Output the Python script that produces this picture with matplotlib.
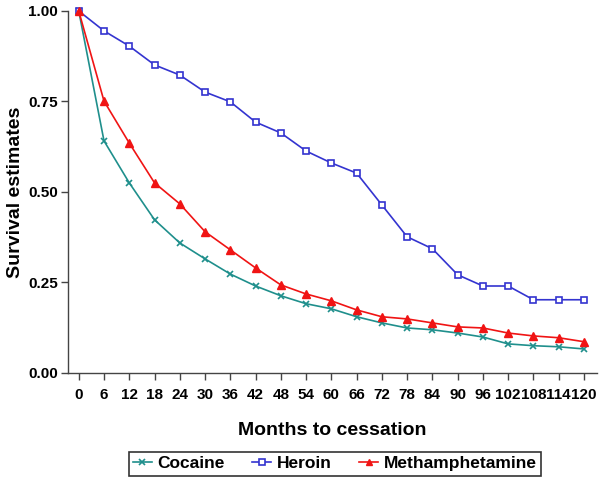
import matplotlib
matplotlib.use("Agg")
import matplotlib.pyplot as plt

plt.rcParams['font.family'] = ['Liberation Sans', 'DejaVu Sans']
plt.rcParams['font.weight'] = 'bold'

months = [0, 6, 12, 18, 24, 30, 36, 42, 48, 54, 60, 66, 72, 78, 84, 90, 96, 102, 108, 114, 120]
cocaine = [1.00, 0.641, 0.525, 0.423, 0.359, 0.315, 0.273, 0.240, 0.213, 0.191, 0.177,
           0.155, 0.138, 0.124, 0.119, 0.110, 0.099, 0.080, 0.075, 0.072, 0.066]
heroin = [1.00, 0.945, 0.903, 0.851, 0.823, 0.776, 0.749, 0.693, 0.663, 0.613, 0.580,
          0.552, 0.464, 0.376, 0.343, 0.271, 0.240, 0.240, 0.202, 0.202, 0.202]
meth = [1.00, 0.751, 0.635, 0.525, 0.467, 0.390, 0.340, 0.290, 0.243, 0.218, 0.199,
        0.174, 0.155, 0.149, 0.138, 0.127, 0.124, 0.110, 0.102, 0.097, 0.086]

fig = plt.figure(figsize=(6, 4.78), dpi=100)
ax = fig.add_axes([0.113, 0.22, 0.882, 0.757])

ax.plot(months, cocaine, color='#1f8f8c', marker='x', markersize=5, mew=1.2, lw=1.2,
        label='Cocaine', clip_on=False)
ax.plot(months, heroin, color='#3434d0', marker='s', markersize=5, mfc='white',
        mew=1.2, lw=1.2, label='Heroin', clip_on=False)
ax.plot(months, meth, color='#f01414', marker='^', markersize=6, lw=1.2,
        label='Methamphetamine', clip_on=False)

ax.set_xlim(-2.6, 123.1)
ax.set_ylim(0, 1.0)
ax.set_xticks(months)
ax.set_yticks([0, 0.25, 0.5, 0.75, 1.0])
ax.set_yticklabels(['0.00', '0.25', '0.50', '0.75', '1.00'])
ax.tick_params(labelsize=11, length=5, width=1, color='#444444')
ax.tick_params(axis='x', pad=6)
ax.tick_params(axis='y', pad=2)
for lab in ax.get_xticklabels() + ax.get_yticklabels():
    lab.set_fontweight('bold')

for s in ['top', 'right']:
    ax.spines[s].set_visible(False)
for s in ['left', 'bottom']:
    ax.spines[s].set_color('#444444')
    ax.spines[s].set_linewidth(1)

ax.set_xlabel('Months to cessation', fontsize=14, fontweight='bold', labelpad=14)
ax.set_ylabel('Survival estimates', fontsize=14, fontweight='bold', labelpad=3)

leg = fig.legend(loc='lower center', bbox_to_anchor=(0.558, -0.013), ncol=3, fontsize=12.5,
                 frameon=True, fancybox=False, edgecolor='black', handlelength=1.1,
                 handletextpad=0.3, columnspacing=1.6, borderpad=0.25, markerscale=0.8)
leg.get_frame().set_linewidth(1.2)

fig.savefig('out.png', dpi=100)
